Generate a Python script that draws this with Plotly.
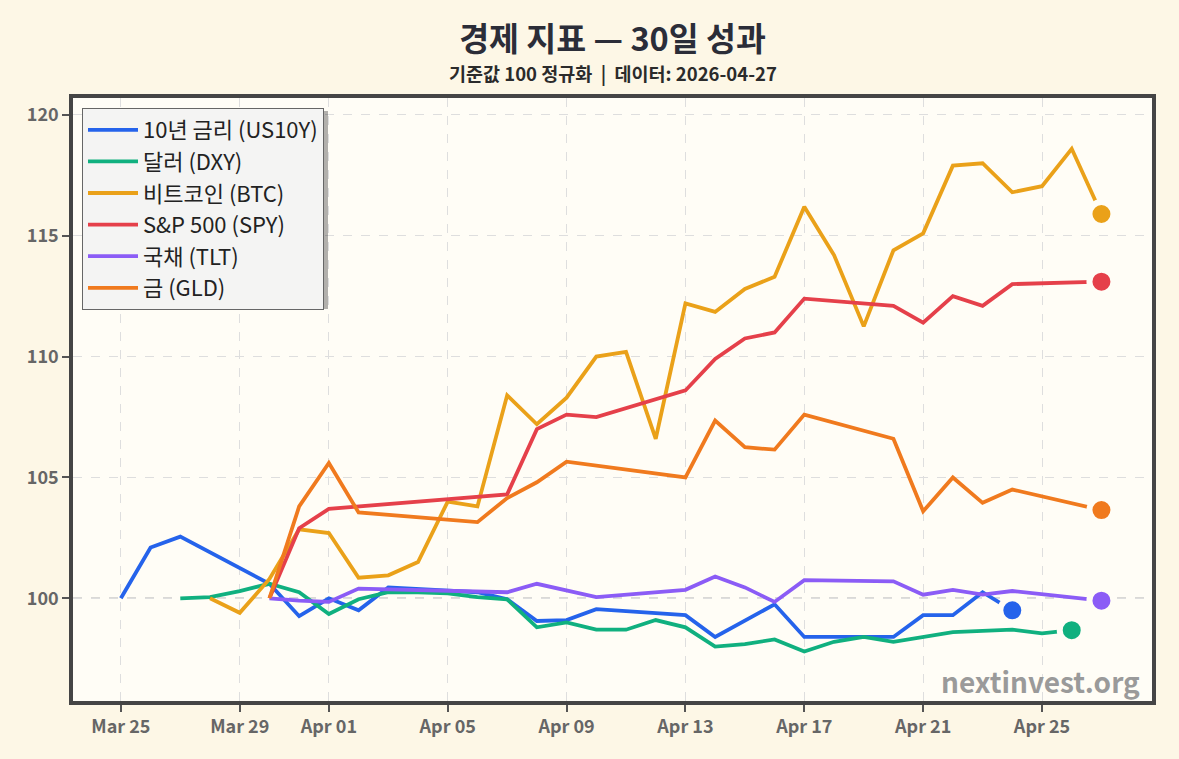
import plotly.graph_objects as go

FONT = "Noto Sans CJK KR"

us10y_dates = ["2026-03-25", "2026-03-26", "2026-03-27", "2026-03-30", "2026-03-31", "2026-04-01",
               "2026-04-02", "2026-04-03", "2026-04-06", "2026-04-07", "2026-04-08", "2026-04-09",
               "2026-04-10", "2026-04-13", "2026-04-14", "2026-04-16", "2026-04-17", "2026-04-20",
               "2026-04-21", "2026-04-22", "2026-04-23", "2026-04-24"]
us10y_vals = [100, 102.1, 102.55, 100.6, 99.26, 100.0, 99.5, 100.45, 100.25, 99.96, 99.06, 99.1,
              99.55, 99.3, 98.4, 99.75, 98.4, 98.4, 99.3, 99.3, 100.25, 99.5]

dxy_dates = ["2026-03-27", "2026-03-28", "2026-03-29", "2026-03-30", "2026-03-31", "2026-04-01",
             "2026-04-02", "2026-04-03", "2026-04-04", "2026-04-05", "2026-04-06", "2026-04-07",
             "2026-04-08", "2026-04-09", "2026-04-10", "2026-04-11", "2026-04-12", "2026-04-13",
             "2026-04-14", "2026-04-15", "2026-04-16", "2026-04-17", "2026-04-18", "2026-04-19",
             "2026-04-20", "2026-04-21", "2026-04-22", "2026-04-23", "2026-04-24", "2026-04-25",
             "2026-04-26"]
dxy_vals = [100, 100.05, 100.3, 100.6, 100.25, 99.35, 99.96, 100.25, 100.25, 100.2, 100.05, 99.96,
            98.8, 99.0, 98.7, 98.7, 99.1, 98.8, 98.0, 98.1, 98.3, 97.8, 98.2, 98.4, 98.2, 98.4,
            98.6, 98.65, 98.7, 98.55, 98.68]

btc_dates = ["2026-03-28", "2026-03-29", "2026-03-30", "2026-03-31", "2026-04-01", "2026-04-02",
             "2026-04-03", "2026-04-04", "2026-04-05", "2026-04-06", "2026-04-07", "2026-04-08",
             "2026-04-09", "2026-04-10", "2026-04-11", "2026-04-12", "2026-04-13", "2026-04-14",
             "2026-04-15", "2026-04-16", "2026-04-17", "2026-04-18", "2026-04-19", "2026-04-20",
             "2026-04-21", "2026-04-22", "2026-04-23", "2026-04-24", "2026-04-25", "2026-04-26",
             "2026-04-27"]
btc_vals = [100, 99.4, 100.8, 102.85, 102.7, 100.85, 100.95, 101.5, 104.0, 103.8, 108.4, 107.2,
            108.3, 110.0, 110.2, 106.6, 112.2, 111.85, 112.8, 113.3, 116.2, 114.2, 111.25, 114.4,
            115.1, 117.9, 118.0, 116.8, 117.05, 118.6, 115.9]

spy_dates = ["2026-03-30", "2026-03-31", "2026-04-01", "2026-04-02", "2026-04-07", "2026-04-08",
             "2026-04-09", "2026-04-10", "2026-04-13", "2026-04-14", "2026-04-15", "2026-04-16",
             "2026-04-17", "2026-04-20", "2026-04-21", "2026-04-22", "2026-04-23", "2026-04-24",
             "2026-04-27"]
spy_vals = [100, 102.9, 103.7, 103.8, 104.3, 107.0, 107.6, 107.5, 108.6, 109.9, 110.75, 111.0,
            112.4, 112.1, 111.4, 112.5, 112.1, 113.0, 113.1]

tlt_dates = ["2026-03-30", "2026-03-31", "2026-04-01", "2026-04-02", "2026-04-07", "2026-04-08",
             "2026-04-10", "2026-04-13", "2026-04-14", "2026-04-15", "2026-04-16", "2026-04-17",
             "2026-04-20", "2026-04-21", "2026-04-22", "2026-04-23", "2026-04-24", "2026-04-27"]
tlt_vals = [100, 99.9, 99.85, 100.4, 100.25, 100.6, 100.05, 100.35, 100.9, 100.45, 99.85, 100.75,
            100.7, 100.15, 100.35, 100.15, 100.3, 99.9]

gld_dates = ["2026-03-30", "2026-03-31", "2026-04-01", "2026-04-02", "2026-04-06", "2026-04-07",
             "2026-04-08", "2026-04-09", "2026-04-13", "2026-04-14", "2026-04-15", "2026-04-16",
             "2026-04-17", "2026-04-20", "2026-04-21", "2026-04-22", "2026-04-23", "2026-04-24",
             "2026-04-27"]
gld_vals = [100, 103.8, 105.6, 103.55, 103.15, 104.15, 104.8, 105.65, 105.0, 107.35, 106.25, 106.15,
            107.6, 106.6, 103.6, 105.0, 103.95, 104.5, 103.65]

series_names = ["10년 금리 (US10Y)", "달러 (DXY)", "비트코인 (BTC)", "S&P 500 (SPY)", "국채 (TLT)", "금 (GLD)"]
series_colors = ["#2563eb", "#10b07f", "#eaa119", "#e5404a", "#8b5cf6", "#f07a1e"]
series_data = [(us10y_dates, us10y_vals), (dxy_dates, dxy_vals), (btc_dates, btc_vals),
               (spy_dates, spy_vals), (tlt_dates, tlt_vals), (gld_dates, gld_vals)]

x_tick_dates = ["2026-03-25", "2026-03-29", "2026-04-01", "2026-04-05", "2026-04-09",
                "2026-04-13", "2026-04-17", "2026-04-21", "2026-04-25"]
x_tick_labels = ["Mar 25", "Mar 29", "Apr 01", "Apr 05", "Apr 09",
                 "Apr 13", "Apr 17", "Apr 21", "Apr 25"]
y_tick_vals = [100, 105, 110, 115, 120]

title_text = "경제 지표 — 30일 성과"
subtitle_text = "기준값 100 정규화 &nbsp;| &nbsp;데이터: 2026-04-27"
watermark = "nextinvest.org"

PAPER_BG = "#fdf7e6"
PLOT_BG = "#fffdf6"

fig = go.Figure()
for i, (name, color, (d, v)) in enumerate(zip(series_names, series_colors, series_data)):
    fig.add_trace(go.Scatter(x=d, y=v, mode="lines", name=name,
                             line=dict(color=color, width=3.8),
                             legendgroup=f"g{i}"))
for name, color, (d, v) in zip(series_names, series_colors, series_data):
    fig.add_trace(go.Scatter(x=[d[-1]], y=[v[-1]], mode="markers", showlegend=False,
                             marker=dict(color=color, size=24,
                                         line=dict(color=PLOT_BG, width=6))))

fig.add_hline(y=100, line=dict(color="#b5b5b5", width=1.6, dash="dash"), layer="below")

# legend shadow
fig.add_shape(type="rect", xref="paper", yref="paper",
              x0=(85 - 73) / 1079, x1=(328 - 73) / 1079,
              y0=(701 - 309) / 603, y1=(701 - 111) / 603,
              fillcolor="rgba(0,0,0,0.3)", line=dict(width=0), layer="above")

fig.update_layout(
    width=1179, height=759,
    margin=dict(l=73, r=27, t=98, b=58),
    paper_bgcolor=PAPER_BG, plot_bgcolor=PLOT_BG,
    font=dict(family=FONT, color="#333"),
    title=dict(text=f"<b>{title_text}</b>", x=0.5, xref="paper", xanchor="center",
               y=1 - 40 / 759, yanchor="middle",
               font=dict(size=32.5, color="#2b2d38", family=FONT)),
    showlegend=True,
    legend=dict(x=(82 - 73) / 1079, y=(701 - 108) / 603, xanchor="left", yanchor="top",
                bgcolor="#f4f4f3", bordercolor="#666", borderwidth=1,
                font=dict(size=22, color="#222", family=FONT),
                tracegroupgap=0, itemwidth=50, traceorder="grouped"),
    xaxis=dict(type="date",
               range=["2026-03-23 09:20", "2026-04-28 16:50"],
               tickmode="array", tickvals=x_tick_dates, ticktext=x_tick_labels,
               showgrid=True, gridcolor="#dedede", griddash="dash", gridwidth=1,
               showline=True, linecolor="#454545", linewidth=3.5, mirror=True,
               ticks="outside", ticklen=7, tickwidth=2, tickcolor="#555",
               tickfont=dict(size=18, color="#666", family=FONT, weight="bold"),
               zeroline=False),
    yaxis=dict(range=[95.75, 120.7], tickmode="array", tickvals=y_tick_vals,
               showgrid=True, gridcolor="#dedede", griddash="dash", gridwidth=1,
               showline=True, linecolor="#454545", linewidth=3.5, mirror=True,
               ticks="outside", ticklen=7, tickwidth=2, tickcolor="#555",
               tickfont=dict(size=18, color="#666", family=FONT, weight="bold"),
               zeroline=False),
    annotations=[
        dict(text=f"<b>{subtitle_text}</b>", xref="paper", yref="paper",
             x=(613 - 73) / 1079, y=(701 - 73) / 603, xanchor="center", yanchor="middle",
             showarrow=False, font=dict(size=18.5, color="#2b2b2b", family=FONT)),
        dict(text=f"<b>{watermark}</b>", xref="paper", yref="paper",
             x=(1142 - 73) / 1079, y=(701 - 681) / 603, xanchor="right", yanchor="middle",
             showarrow=False, font=dict(size=28, color="#9a9a9a", family=FONT)),
    ],
)

fig.write_html("out.html")
